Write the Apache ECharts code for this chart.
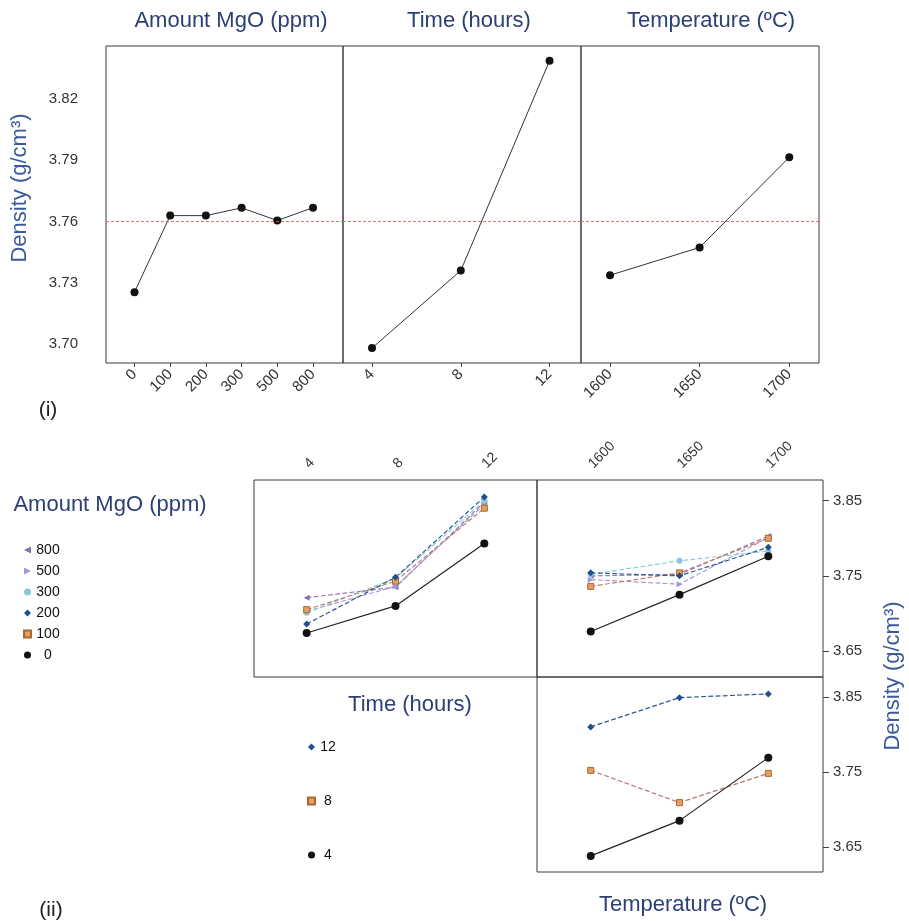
<!DOCTYPE html>
<html>
<head>
<meta charset="utf-8">
<script src="https://cdn.jsdelivr.net/npm/echarts@6/dist/echarts.min.js"></script>
<style>
html,body{margin:0;padding:0;background:#fff;}
#c{width:909px;height:921px;}
</style>
</head>
<body>
<div id="c"></div>
<script>
// ---------- DATA ----------
const mgoLevels = ['0', '100', '200', '300', '500', '800'];
const timeLevels = ['4', '8', '12'];
const tempLevels = ['1600', '1650', '1700'];

// (i) main effects
const mainMgo = [3.7254, 3.7629, 3.7629, 3.7667, 3.7605, 3.7668];
const mainTime = [3.698, 3.736, 3.8388];
const mainTemp = [3.7337, 3.7473, 3.7915];
const grandMean = 3.7572;
const mainTicks = [3.70, 3.73, 3.76, 3.79, 3.82];

// (ii) interactions: MgO x Time (over time 4, 8, 12)
const mgoTime0 = [3.674, 3.710, 3.793];
const mgoTime100 = [3.705, 3.743, 3.840];
const mgoTime200 = [3.686, 3.748, 3.855];
const mgoTime300 = [3.701, 3.747, 3.850];
const mgoTime500 = [3.703, 3.736, 3.845];
const mgoTime800 = [3.721, 3.735, 3.848];

// MgO x Temperature (over 1600, 1650, 1700)
const mgoTemp0 = [3.676, 3.725, 3.776];
const mgoTemp100 = [3.736, 3.754, 3.800];
const mgoTemp200 = [3.754, 3.750, 3.788];
const mgoTemp300 = [3.752, 3.770, 3.783];
const mgoTemp500 = [3.745, 3.739, 3.801];
const mgoTemp800 = [3.750, 3.752, 3.803];

// Time x Temperature (over 1600, 1650, 1700)
const timeTemp4 = [3.638, 3.685, 3.769];
const timeTemp8 = [3.752, 3.709, 3.748];
const timeTemp12 = [3.810, 3.849, 3.854];

const interTicks = [3.65, 3.75, 3.85];

// ---------- STYLE ----------
const FONT = 'Liberation Sans, Arial, sans-serif';
const NAVY = '#2b3f73';
const BLUE = '#3a5a9c';
const TRI_LEFT = 'path://M0,5L10,0L10,10Z';
const TRI_RIGHT = 'path://M10,5L0,0L0,10Z';

const mgoStyle = {
  '0':   {symbol: 'circle',  size: 8, color: '#111111', border: '#111111', line: '#222222', type: 'solid'},
  '100': {symbol: 'rect',    size: 6, color: '#e3a062', border: '#a8682e', line: '#c07d6a', type: 'dashed'},
  '200': {symbol: 'diamond', size: 7, color: '#1f4f8f', border: '#1f4f8f', line: '#2a5a98', type: 'dashed'},
  '300': {symbol: 'circle',  size: 6, color: '#88c8da', border: '#88c8da', line: '#8ccfd8', type: 'dashed'},
  '500': {symbol: TRI_RIGHT, size: 6, color: '#a494dc', border: '#a494dc', line: '#a89ad8', type: 'dashed'},
  '800': {symbol: TRI_LEFT,  size: 6, color: '#8470b0', border: '#8470b0', line: '#9a78b8', type: 'dashed'}
};
const timeStyle = {
  '4':  {symbol: 'circle',  size: 8, color: '#111111', border: '#111111', line: '#222222', type: 'solid'},
  '8':  {symbol: 'rect',    size: 6, color: '#e3a062', border: '#a8682e', line: '#b87878', type: 'dashed'},
  '12': {symbol: 'diamond', size: 7, color: '#1f4f8f', border: '#1f4f8f', line: '#2a5a98', type: 'dashed'}
};

const toXY = arr => arr.map((v, i) => [i, v]);

// ---------- LAYOUT ----------
const grids = [
  {left: 106, top: 46, width: 237, height: 317},
  {left: 343, top: 46, width: 238, height: 317},
  {left: 581, top: 46, width: 238, height: 317},
  {left: 254, top: 480, width: 283, height: 197},
  {left: 537, top: 480, width: 286, height: 197},
  {left: 537, top: 677, width: 286, height: 195}
].map(g => Object.assign({show: true, borderColor: '#3a3a3a', borderWidth: 1, backgroundColor: 'transparent', containLabel: false}, g));

function xAx(gi, labels, min, max, pos, showLabel, rot) {
  const idx = labels.map((_, i) => i);
  return {
    type: 'value', gridIndex: gi, min: min, max: max, position: pos,
    axisLine: {show: false, onZero: false},
    splitLine: {show: false},
    axisTick: {show: showLabel && pos === 'bottom', customValues: idx, length: 4, lineStyle: {color: '#444'}},
    axisLabel: {
      show: showLabel, customValues: idx, rotate: rot, margin: pos === 'bottom' ? 9 : 14,
      formatter: v => labels[Math.round(v)],
      fontFamily: FONT, fontSize: pos === 'bottom' ? 15 : 14, color: '#333'
    }
  };
}
function yAx(gi, min, max, ticks, pos, showLabel) {
  return {
    type: 'value', gridIndex: gi, min: min, max: max, position: pos,
    axisLine: {show: false, onZero: false},
    splitLine: {show: false},
    axisTick: {show: showLabel && pos === 'right', customValues: ticks, length: 6, lineStyle: {color: '#444'}},
    axisLabel: {
      show: showLabel, customValues: ticks, margin: pos === 'right' ? 10 : 28,
      formatter: v => v.toFixed(2),
      fontFamily: FONT, fontSize: 15, color: '#333'
    }
  };
}

const xAxes = [
  xAx(0, mgoLevels, -0.798, 5.84, 'bottom', true, 45),
  xAx(1, timeLevels, -0.3266, 2.354, 'bottom', true, 45),
  xAx(2, tempLevels, -0.3237, 2.332, 'bottom', true, 45),
  xAx(3, timeLevels, -0.593, 2.593, 'top', true, -45),
  xAx(4, tempLevels, -0.605, 2.616, 'top', true, -45),
  xAx(5, tempLevels, -0.605, 2.616, 'bottom', false, 0)
];
const yAxes = [
  yAx(0, 3.6907, 3.846, mainTicks, 'left', true),
  yAx(1, 3.6907, 3.846, mainTicks, 'left', false),
  yAx(2, 3.6907, 3.846, mainTicks, 'left', false),
  yAx(3, 3.6155, 3.8775, interTicks, 'right', false),
  yAx(4, 3.6155, 3.8775, interTicks, 'right', true),
  yAx(5, 3.6165, 3.8765, interTicks, 'right', true)
];

function meanLine() {
  return {
    silent: true, symbol: 'none', label: {show: false},
    lineStyle: {type: [3, 2], color: '#e05858', width: 1, opacity: 0.85},
    emphasis: {disabled: true},
    data: [{yAxis: grandMean}]
  };
}
function mainSeries(gi, arr) {
  return {
    type: 'line', name: 'main' + gi, xAxisIndex: gi, yAxisIndex: gi,
    data: toXY(arr), symbol: 'circle', symbolSize: 8, clip: false,
    itemStyle: {color: '#111'}, lineStyle: {color: '#333', width: 1},
    markLine: meanLine(), z: 3
  };
}
function interSeries(gi, name, st, arr) {
  return {
    type: 'line', name: name, xAxisIndex: gi, yAxisIndex: gi,
    data: toXY(arr), symbol: st.symbol, symbolSize: st.size, clip: false,
    itemStyle: {color: st.color, borderColor: st.border, borderWidth: st.symbol === 'rect' ? 1 : 0},
    lineStyle: {color: st.line, width: 1.2, type: st.type},
    z: name === '0' || name === '4' ? 5 : 3
  };
}

const mgoTimeArrs = {'0': mgoTime0, '100': mgoTime100, '200': mgoTime200, '300': mgoTime300, '500': mgoTime500, '800': mgoTime800};
const mgoTempArrs = {'0': mgoTemp0, '100': mgoTemp100, '200': mgoTemp200, '300': mgoTemp300, '500': mgoTemp500, '800': mgoTemp800};
const timeTempArrs = {'4': timeTemp4, '8': timeTemp8, '12': timeTemp12};

const series = [mainSeries(0, mainMgo), mainSeries(1, mainTime), mainSeries(2, mainTemp)];
const drawOrder = ['800', '500', '300', '100', '200', '0'];
drawOrder.forEach(n => series.push(interSeries(3, n, mgoStyle[n], mgoTimeArrs[n])));
drawOrder.forEach(n => series.push(interSeries(4, n, mgoStyle[n], mgoTempArrs[n])));
['8', '12', '4'].forEach(n => series.push(interSeries(5, n, timeStyle[n], timeTempArrs[n])));

const legendMgoOrder = ['800', '500', '300', '200', '100', '0'];
const legendTimeOrder = ['12', '8', '4'];

function legendData(order, styles) {
  return order.map(n => ({name: n, icon: styles[n].symbol}));
}

function txt(text, x, y, size, color, rot) {
  return {
    type: 'text', x: x, y: y, rotation: rot || 0, silent: true,
    style: {text: text, font: size + 'px ' + FONT, fill: color, align: 'center', verticalAlign: 'middle'}
  };
}

const option = {
  backgroundColor: '#ffffff',
  animation: false,
  grid: grids,
  xAxis: xAxes,
  yAxis: yAxes,
  series: series,
  legend: [
    {
      data: legendData(legendMgoOrder, mgoStyle), orient: 'vertical', left: 18, top: 538,
      itemWidth: 7, itemHeight: 7, itemGap: 7, selectedMode: false,
      formatter: '{c|{name}}',
      textStyle: {fontFamily: FONT, fontSize: 14, color: '#111', rich: {c: {width: 24, align: 'center', fontSize: 14, fontFamily: FONT, color: '#111', lineHeight: 16}}}
    },
    {
      data: legendData(legendTimeOrder, timeStyle), orient: 'vertical', left: 302, top: 735,
      itemWidth: 7, itemHeight: 7, itemGap: 40, selectedMode: false,
      formatter: '{c|{name}}',
      textStyle: {fontFamily: FONT, fontSize: 14, color: '#111', rich: {c: {width: 16, align: 'center', fontSize: 14, fontFamily: FONT, color: '#111', lineHeight: 16}}}
    }
  ],
  graphic: [
    txt('Amount MgO (ppm)', 231, 21, 22, NAVY),
    txt('Time (hours)', 469, 21, 22, NAVY),
    txt('Temperature (ºC)', 711, 21, 22, NAVY),
    txt('Density (g/cm³)', 20, 188, 22, BLUE, Math.PI / 2),
    txt('(i)', 48, 410, 21, '#222'),
    txt('Amount MgO (ppm)', 110, 505, 22, NAVY),
    txt('Time (hours)', 410, 705, 22, NAVY),
    txt('Temperature (ºC)', 683, 905, 22, NAVY),
    txt('Density (g/cm³)', 893, 676, 22, BLUE, Math.PI / 2),
    txt('(ii)', 51, 910, 21, '#222')
  ]
};

const chart = echarts.init(document.getElementById('c'), null, {renderer: 'canvas'});
chart.setOption(option);
</script>
</body>
</html>
